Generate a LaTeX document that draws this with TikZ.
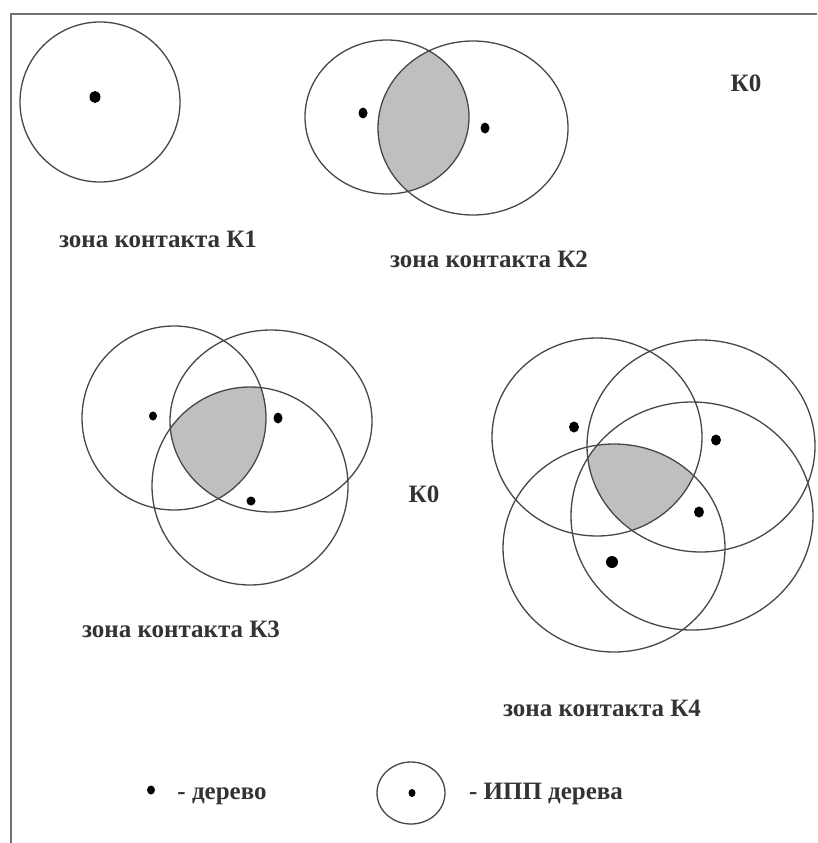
\documentclass[tikz,border=0pt]{standalone}
\usepackage{fontspec}
\setmainfont{Liberation Serif}
\begin{document}
\begin{tikzpicture}[x=1pt,y=-1pt,
  zone/.style={draw=black!72,line width=1.3pt},
  tree/.style={fill=black},
  lbl/.style={font=\fontsize{25}{30}\selectfont\bfseries,inner sep=0pt,anchor=base,text=black!80},
  frameline/.style={draw=black!55,line width=2.2pt},
  shade/.style={fill=black!25}]
\useasboundingbox (0,0) rectangle (817,843);
\fill[white] (0,0) rectangle (817,843);
\draw[frameline] (11,843) -- (11,14) -- (817,14);

% K1
\draw[zone] (100,102) ellipse [x radius=80pt, y radius=80pt];
\fill[tree] (95,97) ellipse [x radius=5.5pt, y radius=6pt];

% K2
\begin{scope}
  \clip (387,117) ellipse [x radius=82pt, y radius=77pt];
  \fill[shade] (473,128) ellipse [x radius=95pt, y radius=87pt];
\end{scope}
\draw[zone] (387,117) ellipse [x radius=82pt, y radius=77pt];
\draw[zone] (473,128) ellipse [x radius=95pt, y radius=87pt];
\fill[tree] (363,113) ellipse [x radius=4.5pt, y radius=5.5pt];
\fill[tree] (485,128) ellipse [x radius=4.5pt, y radius=5.5pt];

% K3
\begin{scope}
  \clip (174,418) ellipse [x radius=92pt, y radius=92pt];
  \clip (271,421) ellipse [x radius=101pt, y radius=91pt];
  \fill[shade] (250,486) ellipse [x radius=98pt, y radius=99pt];
\end{scope}
\draw[zone] (174,418) ellipse [x radius=92pt, y radius=92pt];
\draw[zone] (271,421) ellipse [x radius=101pt, y radius=91pt];
\draw[zone] (250,486) ellipse [x radius=98pt, y radius=99pt];
\fill[tree] (153,416) ellipse [x radius=4pt, y radius=4.5pt];
\fill[tree] (278,418) ellipse [x radius=4.5pt, y radius=5.5pt];
\fill[tree] (251,501) ellipse [x radius=4.5pt, y radius=4.5pt];

% K4
\begin{scope}
  \clip (597,437) ellipse [x radius=105pt, y radius=99pt];
  \clip (701,446) ellipse [x radius=114pt, y radius=106pt];
  \clip (692,516) ellipse [x radius=121pt, y radius=114pt];
  \fill[shade] (614,548) ellipse [x radius=111pt, y radius=104pt];
\end{scope}
\draw[zone] (597,437) ellipse [x radius=105pt, y radius=99pt];
\draw[zone] (701,446) ellipse [x radius=114pt, y radius=106pt];
\draw[zone] (692,516) ellipse [x radius=121pt, y radius=114pt];
\draw[zone] (614,548) ellipse [x radius=111pt, y radius=104pt];
\fill[tree] (574,427) ellipse [x radius=5pt, y radius=5.5pt];
\fill[tree] (716,440) ellipse [x radius=5pt, y radius=5.5pt];
\fill[tree] (699,512) ellipse [x radius=5pt, y radius=5.5pt];
\fill[tree] (612,562) ellipse [x radius=6pt, y radius=6pt];

% labels
\node[lbl] (k0a) at (746,92) {К0};
\node[lbl] (k0b) at (424,502) {К0};
\node[lbl] (l1) at (158,247) {зона контакта К1};
\node[lbl] (l2) at (489,267) {зона контакта К2};
\node[lbl] (l3) at (181,637) {зона контакта К3};
\node[lbl] (l4) at (602,716) {зона контакта К4};

% legend
\fill[tree] (151,790) ellipse [x radius=4pt, y radius=4.5pt];
\node[lbl] (leg1) at (222,799) {- дерево};
\draw[zone] (411,793) ellipse [x radius=34pt, y radius=31pt];
\fill[tree] (412,793) ellipse [x radius=3.5pt, y radius=4pt];
\node[lbl] (leg2) at (546,799) {- ИПП дерева};
\end{tikzpicture}
\end{document}
